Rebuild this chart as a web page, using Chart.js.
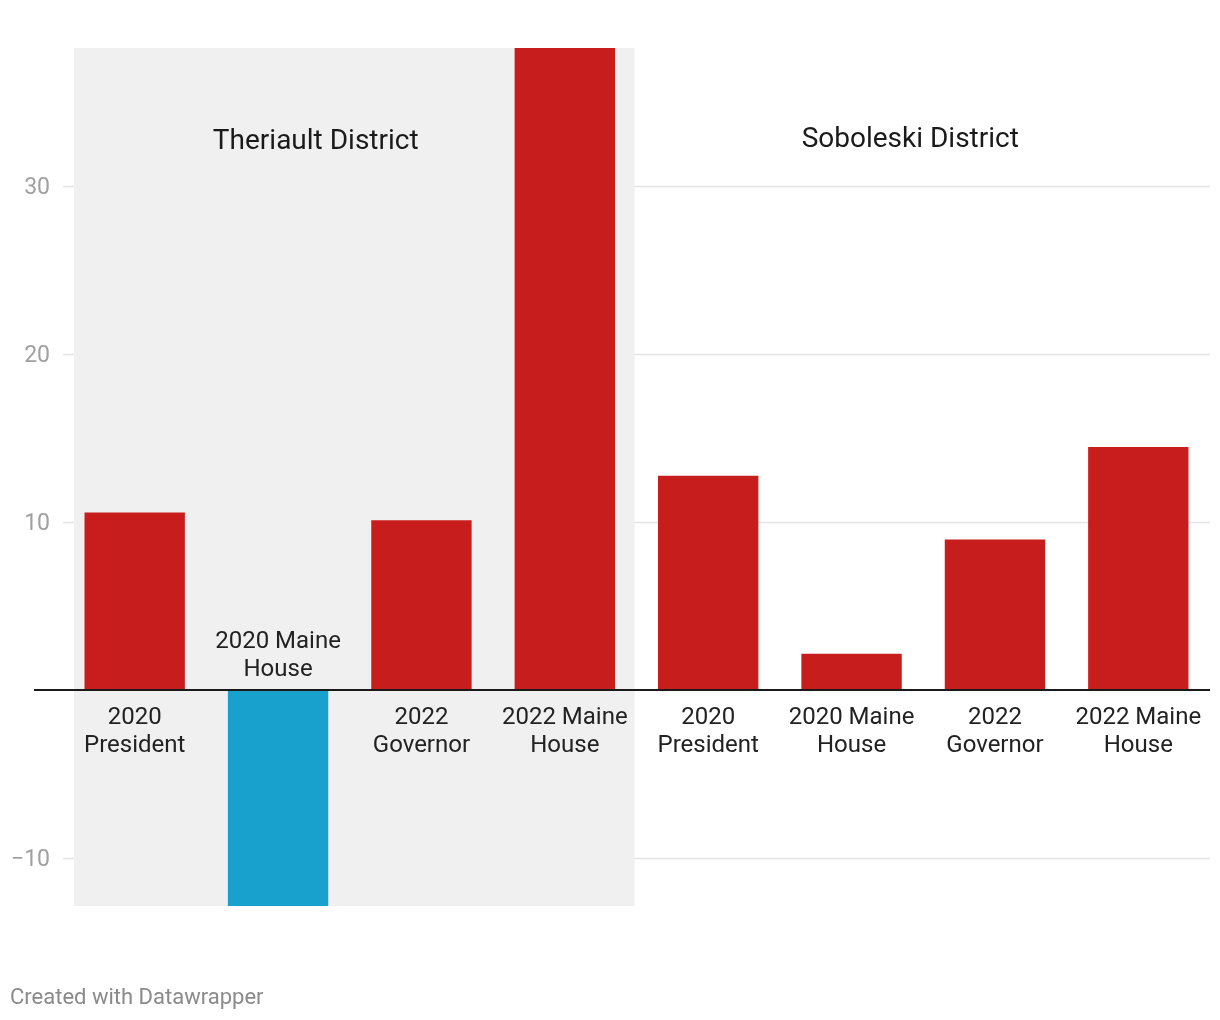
<!DOCTYPE html>
<html><head><meta charset="utf-8">
<script src="https://cdn.jsdelivr.net/npm/chart.js@4"></script>
<style>html,body{margin:0;padding:0;background:#fff;}#wrap{width:1220px;height:1020px;position:relative;}</style>
</head><body><div id="wrap"><canvas id="c"></canvas></div>
<script>
const categories = [["2020","President"],["2020 Maine","House"],["2022","Governor"],["2022 Maine","House"],["2020","President"],["2020 Maine","House"],["2022","Governor"],["2022 Maine","House"]];
const values = [10.55, -13.5, 10.1, 40.0, 12.75, 2.15, 8.95, 14.45];
const districts = ["Theriault District", "Soboleski District"];
const yTicks = [-10, 10, 20, 30];
const yMin = -12.86, yMax = 38.2;

const FONT = "Roboto, 'Noto Sans', sans-serif";
const deco = {
  id: 'deco',
  beforeDatasetsDraw(chart) {
    const {ctx, chartArea: a, scales: {x, y}} = chart;
    ctx.save();
    ctx.strokeStyle = '#e4e4e4'; ctx.lineWidth = 1.5;
    yTicks.forEach(t => { const py = Math.round(y.getPixelForValue(t)) + 0.5; ctx.beginPath(); ctx.moveTo(a.left, py); ctx.lineTo(a.right, py); ctx.stroke(); });
    const step = x.getPixelForValue(1) - x.getPixelForValue(0);
    const sl = x.getPixelForValue(0) - step / 2 + 11;
    const sr = x.getPixelForValue(3) + step / 2 - 2;
    ctx.fillStyle = '#f0f0f0';
    ctx.fillRect(sl, a.top, sr - sl, a.bottom - a.top);
    ctx.fillStyle = '#a0a0a0'; ctx.font = '23px ' + FONT; ctx.textAlign = 'right'; ctx.textBaseline = 'middle';
    yTicks.forEach(t => { const label = t < 0 ? '\u2212' + Math.abs(t) : String(t); ctx.fillText(label, 50, y.getPixelForValue(t) + 2); });
    ctx.fillStyle = '#1a1a1a'; ctx.font = '28px ' + FONT; ctx.textAlign = 'center';
    ctx.fillText(districts[0], (x.getPixelForValue(1) + x.getPixelForValue(2)) / 2 - 34, 142);
    ctx.fillText(districts[1], (x.getPixelForValue(5) + x.getPixelForValue(6)) / 2 - 13, 140);
    ctx.restore();
  },
  afterDatasetsDraw(chart) {
    const {ctx, chartArea: a, scales: {x, y}} = chart;
    ctx.save();
    const y0 = y.getPixelForValue(0);
    ctx.strokeStyle = '#1a1a1a'; ctx.lineWidth = 2;
    ctx.beginPath(); ctx.moveTo(34, y0); ctx.lineTo(a.right, y0); ctx.stroke();
    ctx.fillStyle = '#222'; ctx.font = '24px ' + FONT; ctx.textAlign = 'center'; ctx.textBaseline = 'middle';
    categories.forEach((c, i) => {
      const px = x.getPixelForValue(i);
      if (values[i] >= 0) { ctx.fillText(c[0], px, y0 + 28); ctx.fillText(c[1], px, y0 + 56); }
      else { ctx.fillText(c[0], px, y0 - 48); ctx.fillText(c[1], px, y0 - 20); }
    });
    ctx.fillStyle = '#8a8a8a'; ctx.font = '22px ' + FONT; ctx.textAlign = 'left';
    ctx.fillText('Created with Datawrapper', 10, 998);
    ctx.restore();
  }
};

new Chart(document.getElementById('c'), {
  type: 'bar',
  data: {
    labels: categories.map(c => c.join(' ')),
    datasets: [{
      data: values,
      backgroundColor: values.map(v => v < 0 ? '#18a1cd' : '#c71e1d'),
      barPercentage: 0.70, categoryPercentage: 1.0
    }]
  },
  options: {
    responsive: true, maintainAspectRatio: false, animation: false,
    layout: { padding: { left: 63, right: 10, top: 48, bottom: 114 } },
    plugins: { legend: { display: false }, tooltip: { enabled: false } },
    scales: {
      x: { display: false },
      y: { display: false, min: yMin, max: yMax }
    }
  },
  plugins: [deco]
});
</script></body></html>
